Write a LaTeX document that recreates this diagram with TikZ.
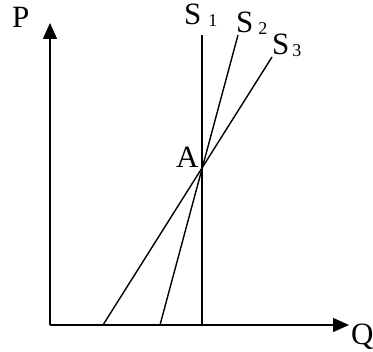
\documentclass[tikz,border=0pt]{standalone}
\usepackage{fontspec}
\setmainfont{Liberation Serif}
\usetikzlibrary{arrows.meta}

\begin{document}
\begin{tikzpicture}[x=1pt, y=1pt,
  font=\fontsize{31}{31}\selectfont,
  axis/.style={line width=1.4pt, -{Triangle[length=16pt,width=14pt]}},
  curve/.style={line width=1.4pt},
  lbl/.style={anchor=base west, inner sep=0pt}
]
\useasboundingbox (0,0) rectangle (373,352);
% axes
\coordinate (orig) at (50,27);
\coordinate (ptop) at (50,329);
\coordinate (qend) at (349,27);
\draw[axis] (orig) -- (ptop);
\draw[axis] (orig) -- (qend);
\node[lbl] (plbl) at (12,324) {P};
\node[lbl] (qlbl) at (351,7) {Q};

% supply curves
\coordinate (s1bot) at (202,27);
\coordinate (s1top) at (202,317);
\coordinate (s2bot) at (160,27);
\coordinate (s2top) at (238,317);
\coordinate (s3bot) at (103,27);
\coordinate (s3top) at (272,295);
\draw[curve] (s1bot) -- (s1top);
\draw[curve] (s2bot) -- (s2top);
\draw[curve] (s3bot) -- (s3top);

\node[lbl] (s1lbl) at (184,327) {S\hspace{7pt}\raisebox{-2pt}{\fontsize{18}{18}\selectfont 1}};
\node[lbl] (s2lbl) at (236,319) {S\hspace{5pt}\raisebox{-2pt}{\fontsize{18}{18}\selectfont 2}};
\node[lbl] (s3lbl) at (272,297) {S\hspace{3pt}\raisebox{-2pt}{\fontsize{18}{18}\selectfont 3}};
\node[lbl] (albl) at (176,184) {A};
\end{tikzpicture}
\end{document}
